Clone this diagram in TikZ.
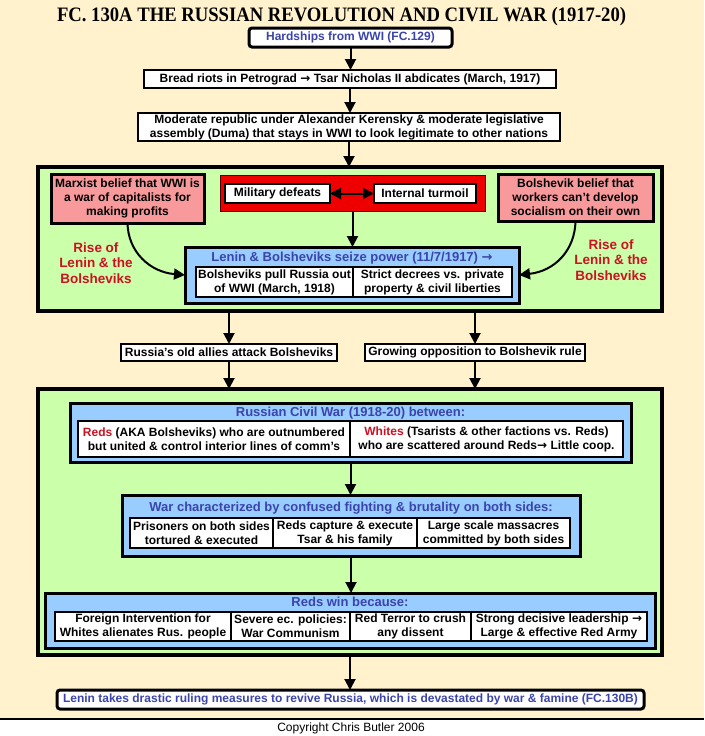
\documentclass[tikz,border=0pt]{standalone}
\usepackage{fontspec}
\usepackage{graphicx}
\setmainfont{Liberation Sans}
\newfontfamily\titleserif{Liberation Serif}
\newfontfamily\arrowglyph{DejaVu Sans}
\newcommand\rarr{{\arrowglyph →}}
\usetikzlibrary{arrows.meta}
\definecolor{cream}{HTML}{FFF2CC}
\definecolor{lgreen}{HTML}{CCFFAA}
\definecolor{lblue}{HTML}{99CCFF}
\definecolor{navytext}{HTML}{3A44AA}
\definecolor{pinkfill}{HTML}{F89A9C}
\definecolor{boxred}{HTML}{EE0000}
\definecolor{txtred}{HTML}{CC1122}
\newcommand\bodyf{\fontsize{12}{14}\selectfont\bfseries}
\newcommand\headf{\fontsize{13}{15}\selectfont\bfseries}
\newcommand\risef{\fontsize{13.5}{15.5}\selectfont\bfseries}
\begin{document}
\begin{tikzpicture}[x=1pt,y=-1pt,
  every node/.style={inner sep=0pt, outer sep=0pt, align=center},
  sz/.style 2 args={minimum width=#1pt, minimum height=#2pt},
  cell/.style={draw=black, fill=white, line width=1.2pt, font=\bodyf},
  keybox/.style={draw=black, fill=white, line width=3pt, rounded corners=3pt, font=\bodyf, text=navytext},
  panel/.style={draw=black, fill=lgreen, line width=4pt},
  bluebox/.style={draw=black, fill=lblue, line width=3pt},
  pinkbox/.style={draw=black, fill=pinkfill, line width=3pt, font=\bodyf},
  redpanel/.style={draw=black!70!red, fill=boxred, line width=1pt},
  headtext/.style={font=\headf, text=navytext},
  risetext/.style={font=\risef, text=txtred},
  arr/.style={draw=black, line width=2pt, -{Triangle[width=11pt,length=11pt]}},
  dblarr/.style={draw=black, line width=2pt, {Triangle[width=11pt,length=11pt]}-{Triangle[width=11pt,length=11pt]}},
]
\useasboundingbox (0,0) rectangle (704,736);
\fill[cream] (0,0) rectangle (704,719);
\fill[white] (0,719) rectangle (704,736);
\draw[line width=1.2pt] (0,719) -- (704,719);

% title
\node[anchor=base west] (title) at (57,21) {\scalebox{0.91}[1]{\fontsize{20.5}{22}\selectfont\titleserif\bfseries FC. 130A THE RUSSIAN REVOLUTION AND CIVIL WAR (1917-20)}};

% top chain
\node[keybox, sz={203}{19}] (hard) at (350.5,37.5) {Hardships from WWI (FC.129)};
\node[cell, sz={412}{18}] (bread) at (350,79) {Bread riots in Petrograd \rarr\ Tsar Nicholas II abdicates (March, 1917)};
\node[cell, sz={422}{28}] (moder) at (349,127) {Moderate republic under Alexander Kerensky \& moderate legislative\\assembly (Duma) that stays in WWI to look legitimate to other nations};

% first panel
\node[panel, sz={624}{144}] (green1) at (350,239) {};
\node[redpanel, sz={265}{36}] (redbox) at (352.5,193) {};
\node[cell, sz={105}{19}] (mil) at (277.5,193.5) {Military defeats};
\node[cell, sz={102}{19}] (turm) at (425,193.5) {Internal turmoil};
\node[pinkbox, sz={153}{49}] (pinkL) at (127.5,198.5) {Marxist belief that WWI is\\a war of capitalists for\\making profits};
\node[pinkbox, sz={155}{47}] (pinkR) at (575.5,197.5) {Bolshevik belief that\\workers can't develop\\socialism on their own};
\node[bluebox, sz={334}{56}] (lenin) at (352,275) {};
\node[headtext] (lenintitle) at (352,258.5) {Lenin \& Bolsheviks seize power (11/7/1917) \rarr};
\node[cell, sz={157}{30}] (pull) at (274.5,282) {Bolsheviks pull Russia out\\of WWI (March, 1918)};
\node[cell, sz={159}{30}] (decree) at (432.5,282) {Strict decrees vs. private\\property \& civil liberties};
\node[risetext] (riseL) at (96,263) {Rise of\\Lenin \& the\\Bolsheviks};
\node[risetext] (riseR) at (611,260) {Rise of\\Lenin \& the\\Bolsheviks};

% middle boxes
\node[cell, sz={216}{17}] (allies) at (229,352.5) {Russia's old allies attack Bolsheviks};
\node[cell, sz={220}{17}] (growing) at (475,352.5) {Growing opposition to Bolshevik rule};

% second panel
\node[panel, sz={624}{266}] (green2) at (350,522) {};
\node[bluebox, sz={561}{59}] (civil) at (350.5,432.5) {};
\node[headtext] (civiltitle) at (350.5,413) {Russian Civil War (1918-20) between:};
\node[cell, sz={272}{36}] (reds) at (214,439) {\textcolor{txtred}{Reds} (AKA Bolsheviks) who are outnumbered\\but united \& control interior lines of comm's};
\node[cell, sz={273}{36}] (whites) at (486.5,439) {\textcolor{txtred}{Whites} (Tsarists \& other factions vs. Reds)\\who are scattered around Reds\rarr\ Little coop.};

\node[bluebox, sz={458}{61}] (war) at (351,525.5) {};
\node[headtext] (wartitle) at (351,508) {War characterized by confused fighting \& brutality on both sides:};
\node[cell, sz={143}{30}] (prison) at (201.5,533) {Prisoners on both sides\\tortured \& executed};
\node[cell, sz={144}{30}] (tsar) at (345,533) {Reds capture \& execute\\Tsar \& his family};
\node[cell, sz={153}{30}] (massacre) at (493.5,533) {Large scale massacres\\committed by both sides};

\node[bluebox, sz={610}{55}] (win) at (350,620.5) {};
\node[headtext] (wintitle) at (350,602) {Reds win because:};
\node[cell, sz={176}{29}] (foreign) at (143,626.5) {Foreign Intervention for\\Whites alienates Rus. people};
\node[cell, sz={119}{29}] (severe) at (290.5,626.5) {Severe ec. policies:\\War Communism};
\node[cell, sz={121}{29}] (terror) at (410.5,626.5) {Red Terror to crush\\any dissent};
\node[cell, sz={176}{29}] (strong) at (559,626.5) {Strong decisive leadership \rarr\\Large \& effective Red Army};

% final
\node[keybox, sz={587}{19}] (final) at (350.5,699.5) {Lenin takes drastic ruling measures to revive Russia, which is devastated by war \& famine (FC.130B)};
\node[font=\fontsize{12}{14}\selectfont] (copy) at (351,728) {Copyright Chris Butler 2006};

% connectors
\draw[arr] (hard.south) -- (hard.south |- bread.north);
\draw[arr] (bread.south) -- (bread.south |- moder.north);
\draw[arr] (moder.south) -- (moder.south |- green1.north);
\draw[dblarr] (mil.east) -- (turm.west);
\draw[arr] (redbox.south) -- (redbox.south |- lenin.north);
\draw[arr] (pinkL.south) .. controls (128,252) and (150,272) .. (lenin.west);
\draw[arr] (pinkR.south) .. controls (575,250) and (555,271) .. (lenin.east);
\draw[arr] (allies.north |- green1.south) -- (allies.north);
\draw[arr] (growing.north |- green1.south) -- (growing.north);
\draw[arr] (allies.south) -- (allies.south |- green2.north);
\draw[arr] (growing.south) -- (growing.south |- green2.north);
\draw[arr] (civil.south) -- (civil.south |- war.north);
\draw[arr] (war.south) -- (war.south |- win.north);
\draw[arr] (green2.south) -- (green2.south |- final.north);
\end{tikzpicture}
\end{document}
